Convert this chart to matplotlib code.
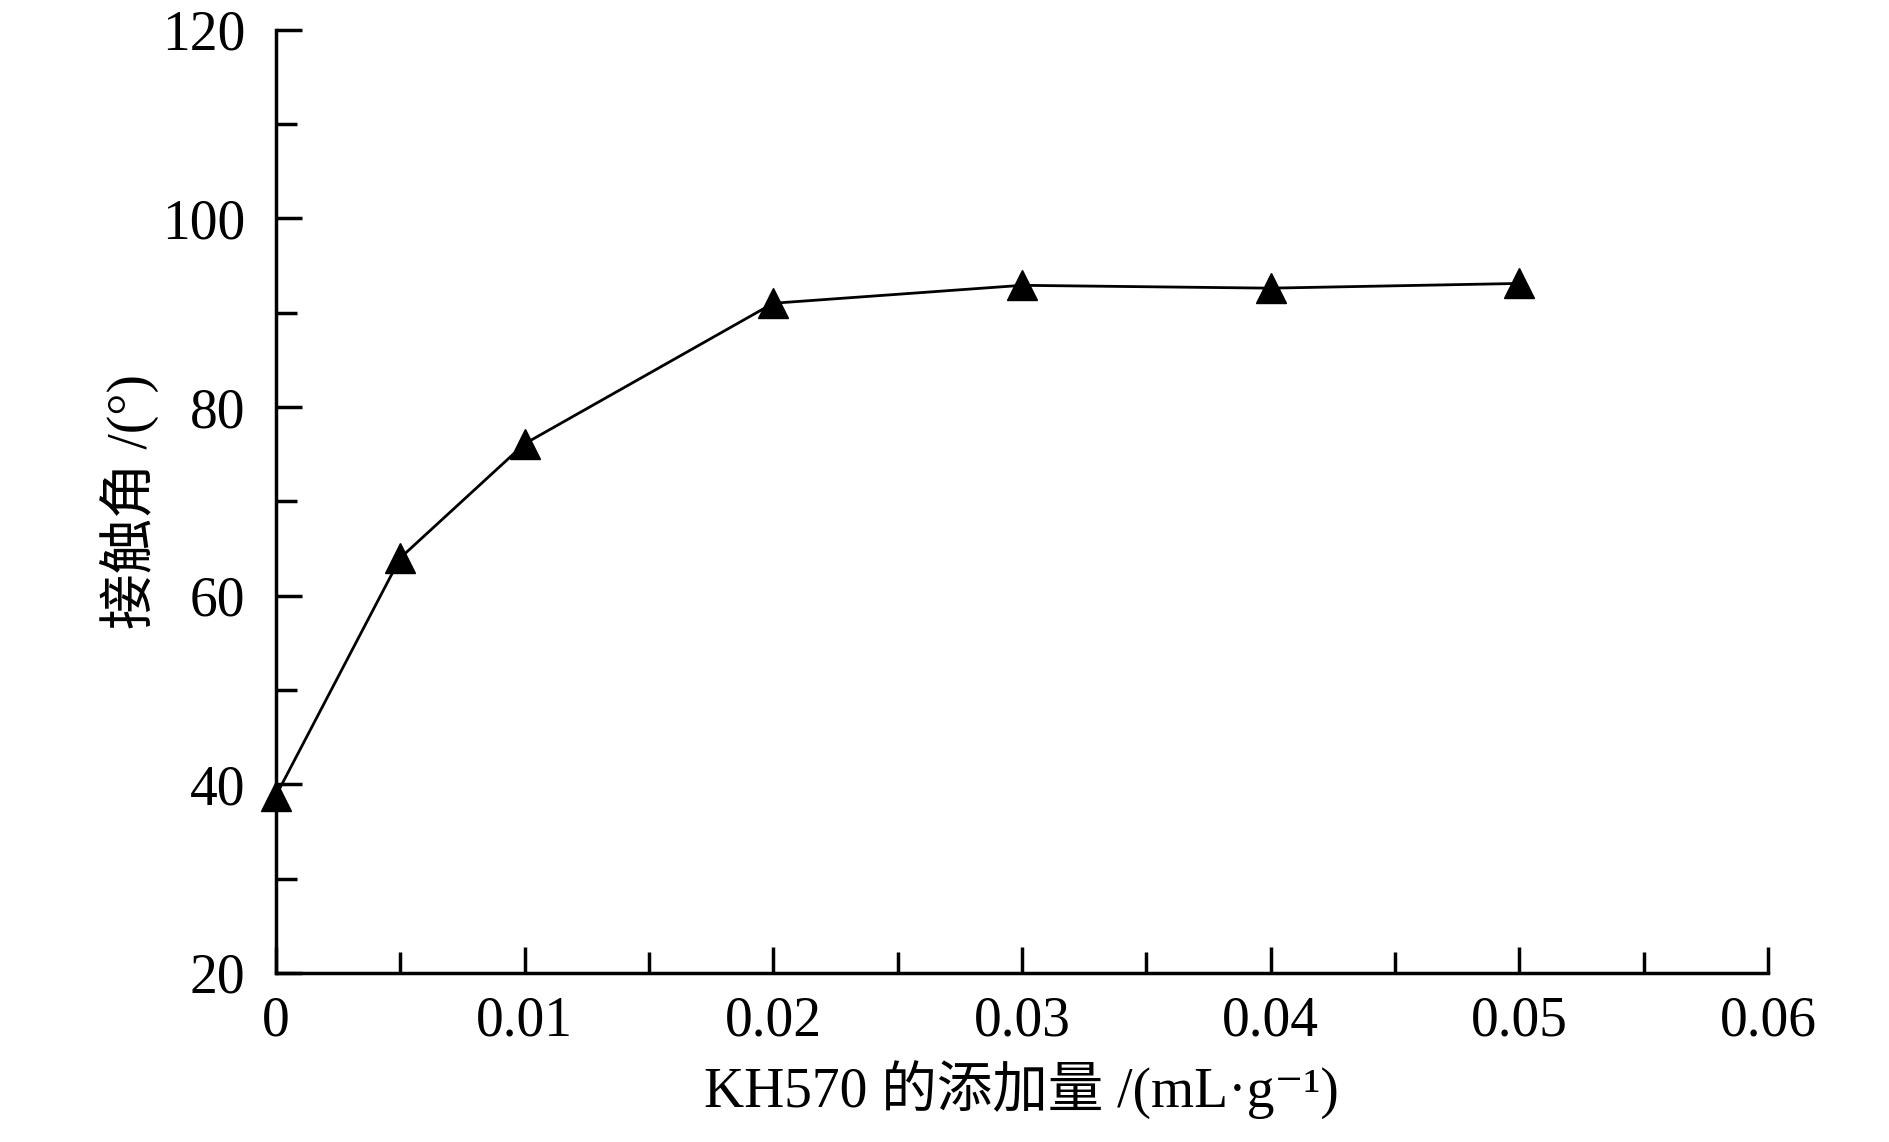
import matplotlib
matplotlib.use("Agg")
import matplotlib.pyplot as plt
from matplotlib.ticker import MultipleLocator

plt.rcParams['font.family'] = ['Liberation Serif', 'Noto Sans CJK SC', 'DejaVu Sans']

# 数据
kh570 = [0, 0.005, 0.01, 0.02, 0.03, 0.04, 0.05]
angle = [38.8, 64.0, 76.1, 91.0, 92.9, 92.6, 93.1]

x_ticks = [0, 0.01, 0.02, 0.03, 0.04, 0.05, 0.06]
x_labels = ['0', '0.01', '0.02', '0.03', '0.04', '0.05', '0.06']
y_ticks = [20, 40, 60, 80, 100, 120]
y_labels = ['20', '40', '60', '80', '100', '120']

fig = plt.figure(figsize=(18.9, 11.42), dpi=100)
ax = fig.add_axes([0.146, 0.148, 0.7894, 0.826])

ax.plot(kh570, angle, color='black', lw=2, marker='^', markersize=21,
        clip_on=False, zorder=3)

ax.set_xlim(0, 0.06)
ax.set_ylim(20, 120)
ax.set_xticks(x_ticks)
ax.set_xticklabels(x_labels)
ax.set_yticks(y_ticks)
ax.set_yticklabels(y_labels)
ax.xaxis.set_minor_locator(MultipleLocator(0.005))
ax.yaxis.set_minor_locator(MultipleLocator(10))

for s in ['top', 'right']:
    ax.spines[s].set_visible(False)
for s in ['left', 'bottom']:
    ax.spines[s].set_linewidth(2.5)

ax.tick_params(which='major', direction='in', length=19, width=2.5, labelsize=40)
ax.tick_params(which='minor', direction='in', length=15, width=2.5)
ax.tick_params(axis='x', which='major', pad=16)
ax.tick_params(axis='y', which='major', pad=22)

ax.set_xlabel('KH570 的添加量 /(mL·g⁻¹)', fontsize=40, labelpad=10)
ax.set_ylabel('接触角 /(°)', fontsize=40, labelpad=2)

fig.savefig('out.png', dpi=100)
